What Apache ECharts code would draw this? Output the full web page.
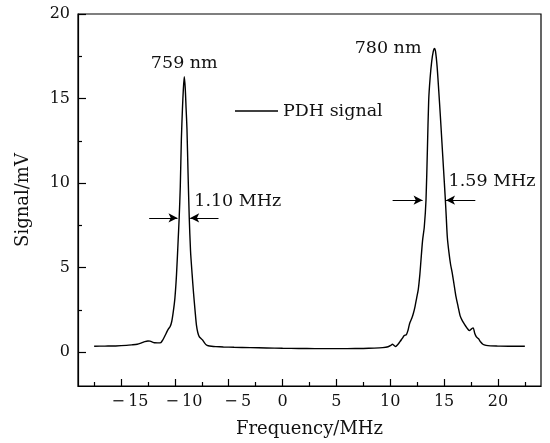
<!DOCTYPE html>
<html>
<head>
<meta charset="utf-8">
<script src="https://cdn.jsdelivr.net/npm/echarts@6/dist/echarts.min.js"></script>
<style>
  html, body { margin: 0; padding: 0; background: #fff; }
  #chart { width: 550px; height: 443px; }
</style>
</head>
<body>
<div id="chart"></div>
<script>
// ---- Data ----
const freq = [-17.5, -16.5, -15.5, -14.5, -14.0, -13.5, -13.1, -12.8, -12.5, -12.3, -12.1, -11.9, -11.6, -11.3, -11.1, -10.9, -10.75, -10.6, -10.45, -10.3, -10.15, -10.0, -9.85, -9.7, -9.6, -9.5, -9.4, -9.3, -9.22, -9.13, -9.04, -8.96, -8.88, -8.78, -8.67, -8.55, -8.4, -8.27, -8.12, -8.0, -7.87, -7.74, -7.6, -7.43, -7.25, -7.1, -6.9, -6.6, -6.2, -5.5, -4.5, -3, -1.5, 0, 1.5, 3, 4.5, 6, 7.5, 8.5, 9.3, 9.8, 10.05, 10.2, 10.35, 10.5, 10.7, 10.9, 11.1, 11.3, 11.5, 11.65, 11.8, 12.0, 12.15, 12.3, 12.45, 12.6, 12.75, 12.86, 13.0, 13.16, 13.32, 13.45, 13.57, 13.7, 13.85, 14.0, 14.1, 14.2, 14.35, 14.5, 14.65, 14.8, 14.95, 15.1, 15.2, 15.3, 15.45, 15.6, 15.75, 15.95, 16.1, 16.3, 16.5, 16.7, 16.9, 17.1, 17.35, 17.55, 17.7, 17.85, 18.0, 18.2, 18.4, 18.6, 18.9, 19.3, 20, 21, 22.5];
const signal = [0.35, 0.36, 0.37, 0.40, 0.43, 0.47, 0.55, 0.62, 0.66, 0.65, 0.60, 0.56, 0.55, 0.57, 0.75, 1.0, 1.2, 1.38, 1.5, 1.8, 2.4, 3.2, 4.6, 6.6, 8.0, 9.8, 12.6, 14.4, 15.5, 16.29, 15.6, 14.4, 13.2, 10.6, 8.0, 6.0, 4.6, 3.5, 2.4, 1.6, 1.15, 0.92, 0.82, 0.72, 0.55, 0.44, 0.38, 0.35, 0.33, 0.31, 0.29, 0.27, 0.25, 0.23, 0.22, 0.21, 0.21, 0.21, 0.22, 0.24, 0.27, 0.32, 0.40, 0.47, 0.40, 0.34, 0.45, 0.62, 0.80, 0.98, 1.04, 1.3, 1.7, 2.0, 2.3, 2.7, 3.2, 3.7, 4.6, 5.5, 6.6, 7.4, 9.0, 12.0, 14.9, 16.2, 17.2, 17.8, 17.97, 17.8, 16.9, 15.5, 14.0, 12.4, 10.8, 9.2, 8.0, 6.8, 5.9, 5.2, 4.7, 3.9, 3.3, 2.7, 2.13, 1.85, 1.64, 1.45, 1.28, 1.38, 1.44, 1.1, 0.9, 0.79, 0.6, 0.47, 0.40, 0.37, 0.36, 0.35, 0.35];

const xMajorTicks = [-15, -10, -5, 0, 5, 10, 15, 20];
const xMinorTicks = [-17.5, -12.5, -7.5, -2.5, 2.5, 7.5, 12.5, 17.5, 22.5];
const yMajorTicks = [0, 5, 10, 15, 20];
const yMinorTicks = [2.5, 7.5, 12.5, 17.5];

const seriesName = 'PDH signal';
const xName = 'Frequency/MHz';
const yName = 'Signal/mV';

// annotations: [text, x, y, align]
const peakLabels = [['759 nm', -9.13, 17.05, 'center'], ['780 nm', 12.9, 17.97, 'right']];
const widthLabels = [['1.10 MHz', -8.2, 8.9, 'left'], ['1.59 MHz', 15.42, 10.1, 'left']];
// FWHM arrows: [fromX, toX, y]
const arrows = [[-12.39, -9.76, 7.94], [-5.95, -8.58, 7.94], [10.22, 13.0, 8.99], [17.9, 15.18, 8.99]];

const FONT = 'DejaVu Serif';
const TXT = '#111';

const chart = echarts.init(document.getElementById('chart'), null, { renderer: 'canvas' });

const xRange = { min: -19, max: 24 };
const yRange = { min: -2, max: 20 };

const markPointData = peakLabels.concat(widthLabels).map(a => ({
  name: a[0], coord: [a[1], a[2]],
  label: { align: a[3] }
}));

const markLineData = arrows.map(a => [{ coord: [a[0], a[2]] }, { coord: [a[1], a[2]] }]);

chart.setOption({
  animation: false,
  backgroundColor: '#fff',
  grid: { left: 78, right: 9, top: 14, bottom: 56, show: true, borderColor: '#000', borderWidth: 1.2, backgroundColor: 'transparent' },
  legend: {
    data: [seriesName], left: 235, top: 102, padding: 0,
    icon: 'rect', itemWidth: 43, itemHeight: 1.3,
    itemStyle: { color: '#000' },
    textStyle: { fontFamily: FONT, fontSize: 17.5, color: TXT }
  },
  xAxis: [
    {
      type: 'value', min: xRange.min, max: xRange.max, position: 'bottom',
      name: xName, nameLocation: 'middle', nameGap: 34,
      nameTextStyle: { fontFamily: FONT, fontSize: 18, color: TXT },
      axisLine: { show: true, onZero: false, lineStyle: { color: '#000', width: 1.2 } },
      axisTick: { show: true, inside: true, length: 7, customValues: xMajorTicks, lineStyle: { color: '#000', width: 1.2 } },
      axisLabel: {
        customValues: xMajorTicks, margin: 8, fontFamily: FONT, fontSize: 16, color: TXT,
        formatter: v => v < 0 ? '{neg|\u2212\u2009' + Math.abs(v) + '}' : String(v),
        rich: { neg: { padding: [0, 0, 0, 18], fontFamily: FONT, fontSize: 16, color: TXT } }
      },
      splitLine: { show: false }
    },
    {
      type: 'value', min: xRange.min, max: xRange.max, position: 'bottom',
      axisLine: { show: false, onZero: false },
      axisTick: { show: true, inside: true, length: 4, customValues: xMinorTicks, lineStyle: { color: '#000', width: 1.2 } },
      axisLabel: { show: false },
      splitLine: { show: false }
    }
  ],
  yAxis: [
    {
      type: 'value', min: yRange.min, max: yRange.max, position: 'left',
      name: yName, nameLocation: 'middle', nameGap: 46, nameRotate: 90,
      nameTextStyle: { fontFamily: FONT, fontSize: 18, color: TXT },
      axisLine: { show: true, onZero: false, lineStyle: { color: '#000', width: 1.2 } },
      axisTick: { show: true, inside: true, length: 8, customValues: yMajorTicks, lineStyle: { color: '#000', width: 1.2 } },
      axisLabel: { customValues: yMajorTicks, margin: 8, fontFamily: FONT, fontSize: 16, color: TXT },
      splitLine: { show: false }
    },
    {
      type: 'value', min: yRange.min, max: yRange.max, position: 'left',
      axisLine: { show: false, onZero: false },
      axisTick: { show: true, inside: true, length: 4, customValues: yMinorTicks, lineStyle: { color: '#000', width: 1.2 } },
      axisLabel: { show: false },
      splitLine: { show: false }
    }
  ],
  series: [
    {
      name: seriesName, type: 'line', xAxisIndex: 0, yAxisIndex: 0,
      data: freq.map((f, i) => [f, signal[i]]),
      showSymbol: false, symbol: 'none', smooth: 0.25,
      lineStyle: { color: '#000', width: 1.4 },
      itemStyle: { color: '#000' },
      markLine: {
        silent: true, symbol: ['none', 'arrow'], symbolSize: [7, 9],
        label: { show: false },
        lineStyle: { color: '#000', width: 1, type: 'solid' },
        emphasis: { disabled: true },
        data: markLineData
      },
      markPoint: {
        silent: true, symbol: 'circle', symbolSize: 0,
        itemStyle: { color: 'transparent' },
        label: {
          show: true, position: 'inside', verticalAlign: 'middle',
          fontFamily: FONT, fontSize: 17.5, color: TXT,
          formatter: p => p.name
        },
        data: markPointData
      }
    }
  ]
});
</script>
</body>
</html>
